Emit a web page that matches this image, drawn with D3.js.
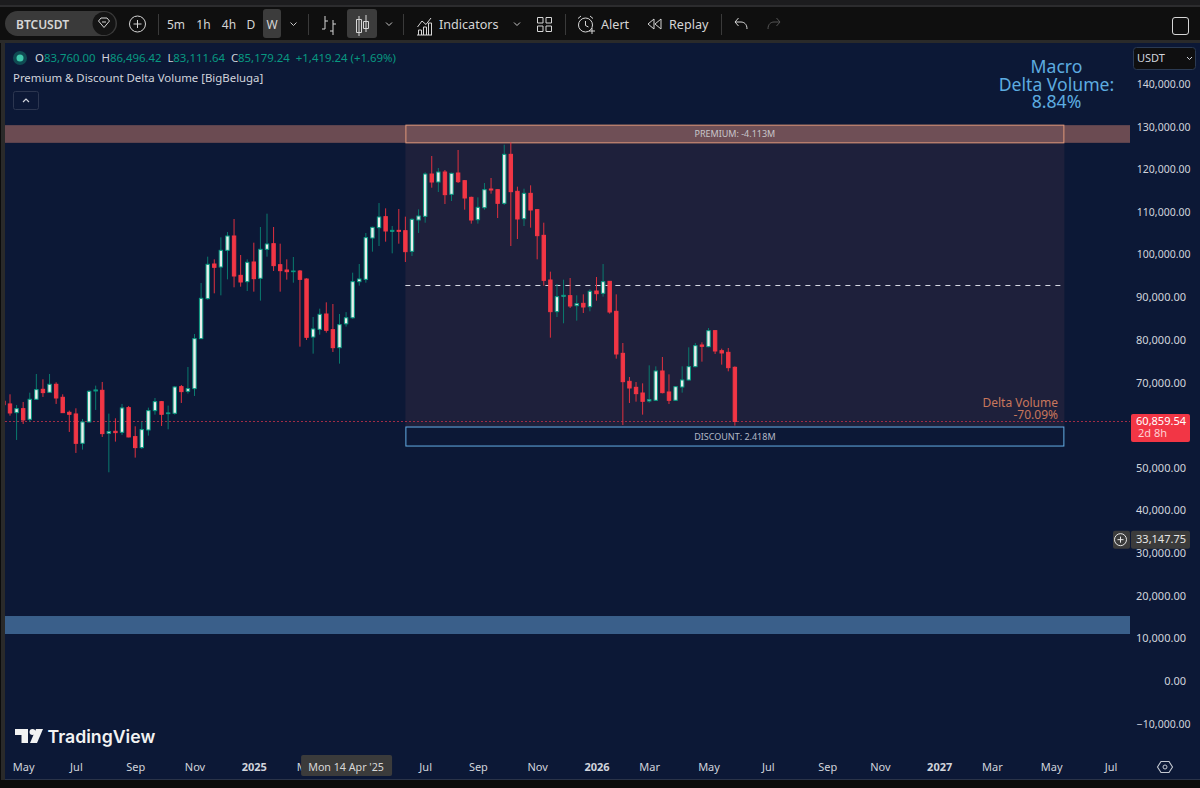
<!DOCTYPE html>
<html>
<head>
<meta charset="utf-8">
<title>BTCUSDT weekly</title>
<script src="https://cdnjs.cloudflare.com/ajax/libs/d3/7.9.0/d3.min.js"></script>
<style>
  html, body { margin: 0; padding: 0; background: #0a0a0a; overflow: hidden; }
  svg { display: block; font-family: "Noto Sans", sans-serif; }
  text { fill: #d1d4dc; }
</style>
</head>
<body>
<svg id="chart" width="1200" height="788"></svg>
<script>
// Weekly BTCUSDT candles, one entry per week starting Mon 15 Apr 2024.
const firstWeek = new Date(Date.UTC(2024, 3, 15));
const opens = [
  65600, 64970, 62930, 63870, 61370, 66060, 68405, 67700, 69580, 66530,
  63010, 62620, 55740, 60750, 68015, 68170, 58090, 58560, 58320, 64110,
  57310, 54730, 58870, 63400, 65510, 62700, 62780, 69030, 67935, 68560,
  80285, 89665, 97790, 97085, 100990, 104355, 95130, 93645, 98260, 94430,
  101230, 102555, 97630, 96380, 95990, 96145, 94270, 80670, 82470, 86065,
  82390, 78170, 83760, 85179, 93645, 94190, 103885, 106310, 108890, 105450,
  105680, 105605, 100760, 108105, 108965, 118890, 117015, 119360, 114125, 119125,
  117330, 113420, 108185, 110990, 115375, 115220, 112015, 123505, 114830, 108420,
  114360, 110530, 104510, 94040, 86615, 90210, 90365, 88020, 88565, 87780,
  91455, 90910, 93725, 86690, 76840, 70275, 68870, 67540, 65665, 65820,
  72700, 67775, 65820, 68945, 70590, 73715, 78795, 78400, 82155, 77465,
  77075, 73560
];
const highs = [
  67000, 67230, 64730, 65435, 67620, 72000, 70750, 72000, 70045, 67230,
  63400, 63950, 61450, 68170, 69265, 70125, 62700, 61605, 64970, 64500,
  59730, 60820, 64110, 66370, 65670, 64575, 69185, 69420, 73640, 81380,
  93340, 99510, 98880, 104040, 105290, 108340, 99900, 98880, 102790, 106465,
  109590, 106465, 102555, 98880, 99430, 96380, 94430, 85360, 87315, 88800,
  88410, 86065, 86496.42, 95755, 97790, 105055, 106540, 112090, 110840, 106700,
  110685, 108890, 108500, 110610, 119285, 123115, 120300, 119830, 119205, 124520,
  117485, 113580, 113420, 116780, 117955, 115300, 125770, 126320, 115920, 115455,
  116235, 110685, 107480, 95990, 93100, 94115, 94505, 90445, 90675, 91845,
  94740, 97785, 93800, 90675, 79265, 71290, 70120, 69805, 74025, 73790,
  75980, 71915, 69180, 73790, 78250, 79265, 79420, 82780, 82310, 77935,
  78090, 73790
];
const lows = [
  64340, 62230, 56525, 60275, 60750, 65900, 66610, 67545, 64970, 62860,
  58400, 53480, 54260, 60590, 63560, 57230, 48940, 56135, 57700, 57150,
  52380, 54415, 57540, 62465, 59810, 59025, 62465, 65200, 67390, 66840,
  80200, 89430, 90910, 90440, 94190, 92320, 92475, 91460, 91300, 89190,
  99510, 96150, 91300, 94115, 93410, 78405, 79970, 76765, 81220, 81690,
  77155, 74420, 83111.64, 84970, 92710, 93410, 100680, 102010, 103025, 100290,
  102555, 98260, 99665, 105060, 107480, 115690, 114670, 111860, 112560, 116780,
  110530, 107250, 107250, 110530, 114280, 108575, 111625, 102010, 103650, 106700,
  106310, 98885, 92710, 80515, 85360, 83880, 87475, 84500, 86300, 86690,
  89190, 90130, 86140, 75590, 60035, 65195, 65505, 62460, 65275, 65740,
  67460, 64960, 65740, 67620, 70430, 73560, 74885, 78250, 76685, 74185,
  72620, 59880
];
const closes = [
  64800, 62860, 63870, 61215, 66060, 68330, 67625, 69580, 66370, 62930,
  62540, 55740, 60750, 67935, 68250, 58010, 58480, 58245, 64030, 57230,
  54730, 58950, 63400, 65510, 62540, 62860, 68950, 67860, 68560, 80285,
  89740, 97715, 97010, 100990, 104355, 94975, 93570, 98180, 94350, 101230,
  102480, 97400, 96225, 95990, 96145, 94190, 80595, 82550, 85985, 82235,
  78170, 83565, 85179.24, 93645, 94270, 103965, 106385, 108810, 105525, 105680,
  105450, 100680, 108260, 109045, 118890, 117015, 119360, 114050, 119050, 117095,
  113265, 108105, 111075, 115220, 115140, 112015, 123505, 114750, 108340, 114360,
  110450, 104435, 93960, 86615, 90130, 90445, 87940, 88490, 87705, 91380,
  90830, 93645, 86530, 76685, 70195, 68710, 67385, 65585, 65975, 72700,
  67620, 65820, 69025, 70590, 73715, 78640, 78480, 82155, 77390, 76920,
  73480, 60859.54
];

// Axis ticks.
const priceTicks = [140000, 130000, 120000, 110000, 100000, 90000, 80000, 70000,
  50000, 40000, 30000, 20000, 10000, 0, -10000];
const timeTickDates = ["2024-05-06", "2024-07-01", "2024-09-02", "2024-11-04", "2025-01-06",
  "2025-03-03", "2025-07-07", "2025-09-01", "2025-11-03", "2026-01-05",
  "2026-03-02", "2026-05-04", "2026-07-06", "2026-09-07", "2026-11-02", "2027-01-04",
  "2027-03-01", "2027-05-03", "2027-07-05"];
const timeTickLabels = ["May", "Jul", "Sep", "Nov", "2025", "Mar", "Jul", "Sep", "Nov", "2026",
  "Mar", "May", "Jul", "Sep", "Nov", "2027", "Mar", "May", "Jul"];

// Premium & Discount indicator levels.
const premiumLevels = [130350, 126200];
const discountLevels = [59560, 55100];
const lowerBandLevels = [15240, 11020];
const rangeTop = 126200;
const midLevel = 92750;
const rangeSpan = ["2025-06-16", "2027-05-17"];
const lastPrice = 60859.54;
const crosshairPrice = 33147.75;
const crosshairDate = "2025-04-14";

const legendItems = [
  ["O", "83,760.00"], ["H", "86,496.42"], ["L", "83,111.64"], ["C", "85,179.24"]
];
const legendChange = "+1,419.24 (+1.69%)";

const parseDay = d3.utcParse("%Y-%m-%d");
const weeks = d3.utcMonday.range(firstWeek, d3.utcDay.offset(firstWeek, 7 * opens.length));
const candles = weeks.map((date, i) => ({
  date, open: opens[i], high: highs[i], low: lows[i], close: closes[i]
}));

const PANEL = { left: 5, right: 1130, top: 43, bottom: 752, foot: 779 };
const BG = "#0c1836", RED = "#f23645", TEAL = "#089981";

const x = d3.scaleUtc()
  .domain([parseDay("2024-04-22"), parseDay("2027-07-05")])
  .range([10, 1110.5]);
const y = d3.scaleLinear().domain([0, 140000]).range([681, 84]);

const svg = d3.select("#chart");
const priceFmt = d3.format(",.2f");

// Window chrome behind the chart.
svg.append("rect").attr("width", 1200).attr("height", 788).attr("fill", "#0b0b0b");
svg.append("rect").attr("width", 1200).attr("height", 5).attr("fill", "#1c1c1e");
svg.append("rect").attr("y", 5).attr("width", 1200).attr("height", 2).attr("fill", "#2c2c2e");
svg.append("rect").attr("y", 7).attr("width", 1200).attr("height", 33).attr("fill", "#0f0f0f");
svg.append("rect").attr("y", 40).attr("width", 1200).attr("height", 3).attr("fill", "#2a2a2a");
svg.append("rect").attr("x", 1).attr("y", 43).attr("width", 4).attr("height", 737).attr("fill", "#2a2a2a");
svg.append("rect").attr("x", PANEL.left).attr("y", PANEL.top)
  .attr("width", 1200 - PANEL.left).attr("height", PANEL.foot - PANEL.top).attr("fill", BG);
svg.append("rect").attr("x", PANEL.left).attr("y", PANEL.foot).attr("width", 1195).attr("height", 1).attr("fill", "#2a3348");

svg.append("defs").append("clipPath").attr("id", "pane").append("rect")
  .attr("x", PANEL.left).attr("y", PANEL.top)
  .attr("width", PANEL.right - PANEL.left).attr("height", PANEL.bottom - PANEL.top);

const pane = svg.append("g").attr("clip-path", "url(#pane)");

const rangeX0 = x(parseDay(rangeSpan[0])), rangeX1 = x(parseDay(rangeSpan[1]));

// Full-width premium and lower bands.
pane.append("rect").attr("x", PANEL.left).attr("width", PANEL.right - PANEL.left)
  .attr("y", y(premiumLevels[0])).attr("height", y(premiumLevels[1]) - y(premiumLevels[0]))
  .attr("fill", "#6b4b52");
pane.append("rect").attr("x", PANEL.left).attr("width", PANEL.right - PANEL.left)
  .attr("y", y(lowerBandLevels[0])).attr("height", y(lowerBandLevels[1]) - y(lowerBandLevels[0]))
  .attr("fill", "#3a5f8a");

// Premium/discount range shading and midline.
pane.append("rect").attr("x", rangeX0).attr("width", rangeX1 - rangeX0)
  .attr("y", y(rangeTop)).attr("height", y(discountLevels[0]) - y(rangeTop))
  .attr("fill", "#1e203b");
pane.append("line").attr("x1", rangeX0).attr("x2", rangeX1)
  .attr("y1", y(midLevel)).attr("y2", y(midLevel))
  .attr("stroke", "#d8dbe4").attr("stroke-width", 1).attr("stroke-dasharray", "5 5");

// Range boxes carrying the side totals.
pane.append("rect").attr("x", rangeX0 + 0.5).attr("width", rangeX1 - rangeX0 - 1)
  .attr("y", y(premiumLevels[0])).attr("height", y(premiumLevels[1]) - y(premiumLevels[0]))
  .attr("fill", "#6f4f56").attr("stroke", "#e0987a").attr("stroke-width", 1);
pane.append("rect").attr("x", rangeX0 + 0.5).attr("width", rangeX1 - rangeX0 - 1)
  .attr("y", y(discountLevels[0])).attr("height", y(discountLevels[1]) - y(discountLevels[0]))
  .attr("fill", BG).attr("stroke", "#64aee6").attr("stroke-width", 1);

// Last price line, snapped to a pixel row so the dots stay crisp.
const lastRow = Math.floor(y(lastPrice)) + 0.5;
pane.append("line").attr("x1", PANEL.left).attr("x2", PANEL.right)
  .attr("y1", lastRow).attr("y2", lastRow)
  .attr("stroke", "#a02c46").attr("stroke-width", 1).attr("stroke-dasharray", "2 2");

// Candles: wick first, body on top.
const isUp = d => d.close >= d.open;
const candle = pane.append("g").selectAll("g").data(candles).join("g");
candle.append("line")
  .attr("x1", d => x(d.date)).attr("x2", d => x(d.date))
  .attr("y1", d => y(d.high)).attr("y2", d => y(d.low))
  .attr("stroke", d => isUp(d) ? "#0a7a6e" : "#e0303f").attr("stroke-width", 1);
candle.append("rect")
  .attr("x", d => x(d.date) - 1.7).attr("width", 3.4)
  .attr("y", d => y(Math.max(d.open, d.close)))
  .attr("height", d => Math.max(0.6, Math.abs(y(d.open) - y(d.close))))
  .attr("fill", d => isUp(d) ? "#e9efec" : RED)
  .attr("stroke", d => isUp(d) ? TEAL : RED).attr("stroke-width", 1);

// Box captions.
const midRange = (rangeX0 + rangeX1) / 2;
svg.append("text").attr("x", midRange).attr("y", y((premiumLevels[0] + premiumLevels[1]) / 2))
  .attr("dy", "0.35em").attr("text-anchor", "middle").attr("font-size", 9).style("fill", "#c9c6ca")
  .text("PREMIUM: -4.113M");
svg.append("text").attr("x", midRange).attr("y", y((discountLevels[0] + discountLevels[1]) / 2))
  .attr("dy", "0.35em").attr("text-anchor", "middle").attr("font-size", 9).style("fill", "#b3b9c6")
  .text("DISCOUNT: 2.418M");

const deltaNote = svg.append("g").attr("font-size", 12).attr("text-anchor", "end");
deltaNote.append("text").attr("x", 1058).attr("y", 406.5).style("fill", "#c9775c").text("Delta Volume");
deltaNote.append("text").attr("x", 1058).attr("y", 419).style("fill", "#c9775c").text("-70.09%");

const macro = svg.append("g").attr("font-size", 17.6).attr("text-anchor", "middle");
[["Macro", 73], ["Delta Volume:", 91], ["8.84%", 107.5]].forEach(([t, py]) =>
  macro.append("text").attr("x", 1056.5).attr("y", py).style("fill", "#5dace0").text(t));

// Price scale: six-figure and negative labels run a little further right.
const wideLabel = d => Math.abs(d) >= 100000 || d <= -10000;
const priceAxis = svg.append("g")
  .call(d3.axisLeft(y).tickValues(priceTicks).tickSize(0).tickPadding(0)
    .tickFormat(d => priceFmt(d).replace("-", "\u2212")));
priceAxis.select(".domain").remove();
priceAxis.selectAll("text")
  .attr("x", d => wideLabel(d) ? 1190.5 : 1186)
  .attr("font-size", d => wideLabel(d) ? 10.5 : 11)
  .attr("font-family", "Noto Sans").style("fill", "#d1d4dc");

// Time scale; year ticks are bold.
const timeAxis = svg.append("g").attr("transform", "translate(0,767)")
  .call(d3.axisBottom(x).tickValues(timeTickDates.map(parseDay)).tickSize(0).tickPadding(0)
    .tickFormat((d, i) => timeTickLabels[i]));
timeAxis.select(".domain").remove();
timeAxis.selectAll("text").attr("font-size", 11).attr("font-family", "Noto Sans")
  .attr("dy", "0.35em").attr("y", 0)
  .attr("font-weight", (d, i) => /^\d+$/.test(timeTickLabels[i]) ? 700 : 400)
  .style("fill", "#d1d4dc");

// Last price tag.
const lastTag = svg.append("g");
lastTag.append("rect").attr("x", 1131).attr("y", y(lastPrice) - 7.5).attr("width", 59).attr("height", 28)
  .attr("rx", 2).attr("fill", RED);
lastTag.append("text").attr("x", 1186).attr("y", y(lastPrice) + 4).attr("text-anchor", "end")
  .attr("font-size", 11).style("fill", "#ffffff").text(priceFmt(lastPrice));
lastTag.append("text").attr("x", 1138).attr("y", y(lastPrice) + 16)
  .attr("font-size", 11).style("fill", "#ffd0d4").text("2d 8h");

// Crosshair tags.
const crossY = y(crosshairPrice);
svg.append("rect").attr("x", 1113).attr("y", crossY - 9).attr("width", 17).attr("height", 18).attr("rx", 2).attr("fill", "#3b3b3b");
svg.append("circle").attr("cx", 1120.5).attr("cy", crossY).attr("r", 6).attr("fill", "none").attr("stroke", "#e6e6e6");
svg.append("path").attr("d", `M1117.5 ${crossY}h6M1120.5 ${crossY - 3}v6`).attr("stroke", "#e6e6e6");
svg.append("rect").attr("x", 1131).attr("y", crossY - 9).attr("width", 59).attr("height", 18).attr("rx", 2).attr("fill", "#3b3b3b");
svg.append("text").attr("x", 1186).attr("y", crossY).attr("dy", "0.35em").attr("text-anchor", "end")
  .attr("font-size", 11).style("fill", "#e6e6e6").text(priceFmt(crosshairPrice));
const crossX = x(parseDay(crosshairDate));
svg.append("rect").attr("x", crossX - 45).attr("y", 755).attr("width", 91).attr("height", 21).attr("rx", 2).attr("fill", "#3b3b3b");
svg.append("text").attr("x", crossX).attr("y", 767).attr("dy", "0.35em").attr("text-anchor", "middle")
  .attr("font-size", 10.7).style("fill", "#d8d8d8").text("Mon 14 Apr '25");

// OHLC legend row.
svg.append("circle").attr("cx", 20).attr("cy", 58).attr("r", 7).attr("fill", "#0f4a52");
svg.append("circle").attr("cx", 20).attr("cy", 58).attr("r", 3.5).attr("fill", "#3fc7ab");
const legend = svg.append("text").attr("x", 35).attr("y", 62).attr("font-size", 11.4);
legendItems.forEach(([k, v], i) => {
  legend.append("tspan").attr("dx", i ? 5.8 : 0).style("fill", "#d1d4dc").text(k);
  legend.append("tspan").style("fill", TEAL).text(v);
});
legend.append("tspan").attr("dx", 6).style("fill", TEAL).text(legendChange);
svg.append("text").attr("x", 13).attr("y", 82).attr("font-size", 11.4).style("fill", "#d1d4dc")
  .text("Premium & Discount Delta Volume [BigBeluga]");
svg.append("rect").attr("x", 13.5).attr("y", 91.5).attr("width", 25).attr("height", 18).attr("rx", 2)
  .attr("fill", "none").attr("stroke", "#2c3650");
svg.append("path").attr("d", "M23 102l3-3 3 3").attr("fill", "none").attr("stroke", "#d1d4dc").attr("stroke-width", 1.2);

// Currency dropdown.
svg.append("rect").attr("x", 1133.5).attr("y", 47.5).attr("width", 62).attr("height", 22).attr("rx", 3)
  .attr("fill", "#0f0f10").attr("stroke", "#2b3a52");
svg.append("text").attr("x", 1137).attr("y", 62).attr("font-size", 11).style("fill", "#d1d4dc").text("USDT");
svg.append("path").attr("d", "M1187 57l2.5 2.5 2.5-2.5").attr("fill", "none").attr("stroke", "#d1d4dc");

// Settings gear.
svg.append("path").attr("d", "M1161 761.5h8l3.5 5.5-3.5 5.5h-8l-3.5-5.5z").attr("fill", "none").attr("stroke", "#c4c8d0").attr("stroke-width", 1.1);
svg.append("circle").attr("cx", 1165).attr("cy", 767).attr("r", 2).attr("fill", "none").attr("stroke", "#c4c8d0");

// Wordmark.
const mark = svg.append("g").attr("fill", "#f2f2f2");
mark.append("path").attr("d", "M15 729h13v14h-6.5v-8H15z");
mark.append("circle").attr("cx", 32.5).attr("cy", 732).attr("r", 3);
mark.append("path").attr("d", "M36 729h7l-6 14h-7z");
svg.append("text").attr("x", 47.5).attr("y", 743).attr("font-family", "Inter").attr("font-weight", 600)
  .attr("font-size", 17.7).style("fill", "#f2f2f2").text("TradingView");

// Top toolbar.
const bar = svg.append("g");
const barText = (t, px, o = {}) => bar.append("text").attr("x", px).attr("y", 28.5)
  .attr("font-size", o.size || 12).attr("text-anchor", o.anchor || "middle")
  .attr("font-weight", o.weight || 400).style("fill", o.fill || "#d6d6d6").text(t);
const sep = px => bar.append("rect").attr("x", px).attr("y", 14).attr("width", 1).attr("height", 21).attr("fill", "#3a3a3a");
const chev = px => bar.append("path").attr("d", `M${px - 3} 22.5l3 3 3-3`).attr("fill", "none").attr("stroke", "#c8c8c8");
const icon = d => bar.append("path").attr("d", d).attr("fill", "none").attr("stroke", "#d6d6d6").attr("stroke-width", 1);

bar.append("rect").attr("x", 5).attr("y", 11).attr("width", 112).attr("height", 25).attr("rx", 12.5).attr("fill", "#3a3a3a");
bar.append("circle").attr("cx", 104).attr("cy", 23.5).attr("r", 11.5).attr("fill", "#141414");
icon("M98.5 21l2.5-3h6l2.5 3-5.5 6.5zM102 22h4");
barText("BTCUSDT", 16, { anchor: "start", weight: 600 });

bar.append("circle").attr("cx", 137.5).attr("cy", 24).attr("r", 8).attr("fill", "none").attr("stroke", "#d6d6d6");
icon("M133.5 24h8M137.5 20v8");
sep(158);

barText("5m", 176);
barText("1h", 203.5);
barText("4h", 229);
barText("D", 251);
bar.append("rect").attr("x", 263).attr("y", 9).attr("width", 18).attr("height", 29).attr("rx", 3).attr("fill", "#3c3c3c");
barText("W", 272);
chev(293.5);
sep(308);

icon("M325 16v13M322 29h3M325 21h3M333 20v15M330 31h3M333 24h3");
bar.append("rect").attr("x", 347).attr("y", 9).attr("width", 30).attr("height", 29).attr("rx", 3).attr("fill", "#3c3c3c");
icon("M359 16v20M356.5 19.5h5v13h-5zM366 15v17M363.5 21.5h5v7h-5z");
chev(389);
sep(403);

icon("M417 35h15M418.5 35v-5h3v5M423.5 35v-8h3v8M428.5 35v-12h3v12M417.5 27l4.5-6 4 3.5 5-6.5");
barText("Indicators", 439, { anchor: "start", size: 12.6 });
chev(517);
icon("M537.5 17.5h5.5v5.5h-5.5zM546 17.5h5.5v5.5H546zM537.5 26h5.5v5.5h-5.5zM546 26h5.5v5.5H546z");
sep(565);

bar.append("circle").attr("cx", 585.5).attr("cy", 25).attr("r", 7).attr("fill", "none").attr("stroke", "#d6d6d6");
icon("M585.5 21v4.5l3 1.5M578 18.5l3-2.5M593 18.5l-3-2.5M589 31h6M592 28v6");
barText("Alert", 601, { anchor: "start", size: 12.6 });
icon("M654 19v10l-6-5zM661 19v10l-6-5z");
barText("Replay", 669, { anchor: "start", size: 12.6 });
sep(721);

icon("M747 29c0-5-3-7-6-7h-6M738.5 18l-3.5 4 3.5 4");
bar.append("path").attr("d", "M768 29c0-5 3-7 6-7h6M776.5 18l3.5 4-3.5 4")
  .attr("fill", "none").attr("stroke", "#555555");
bar.append("rect").attr("x", 1172.5).attr("y", 17.5).attr("width", 16).attr("height", 17).attr("rx", 2.5)
  .attr("fill", "none").attr("stroke", "#d6d6d6");
</script>
</body>
</html>
